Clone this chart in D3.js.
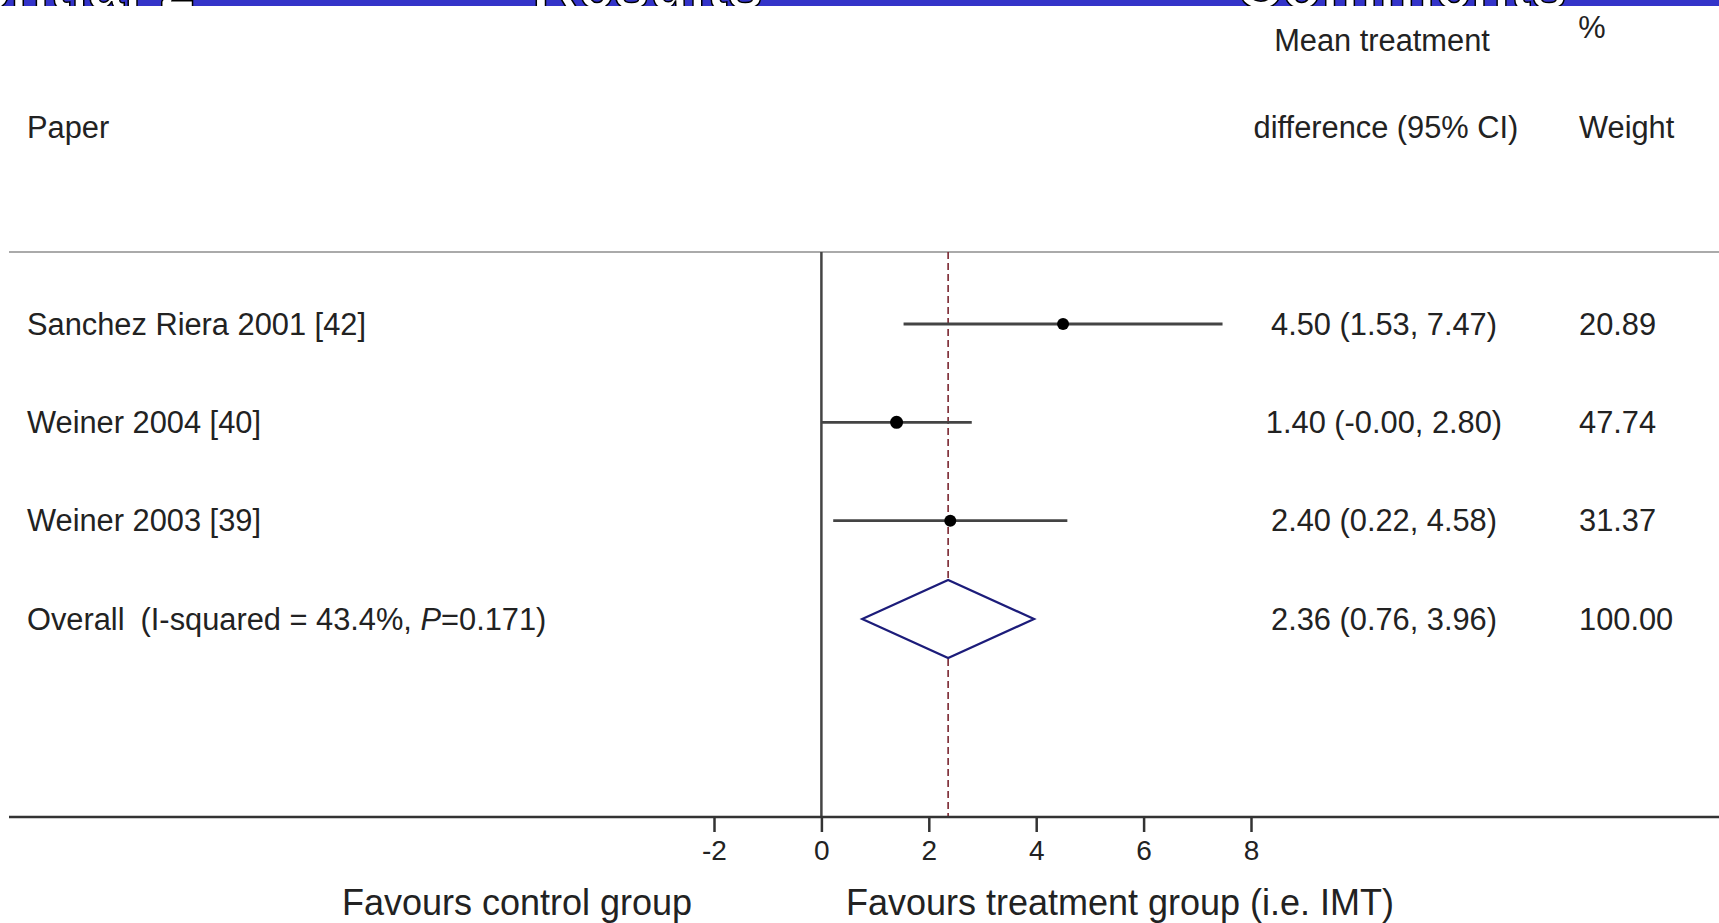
<!DOCTYPE html>
<html>
<head>
<meta charset="utf-8">
<script src="https://cdn.jsdelivr.net/npm/d3@7"></script>
<style>
  html, body { margin: 0; padding: 0; background: #fff; }
  svg { display: block; font-family: "Liberation Sans", Arial, sans-serif; }
  .txt { fill: #222; font-size: 30.8px; }
  .favours { fill: #222; font-size: 36px; }
  .axis text { font-size: 28px; fill: #222; font-family: "Liberation Sans", Arial, sans-serif; }
  .axis line { stroke: #333; stroke-width: 2.5; }
</style>
</head>
<body>
<div id="forest"></div>
<script>
const papers = ['Sanchez Riera 2001 [42]', 'Weiner 2004 [40]', 'Weiner 2003 [39]'];
const estimates = [4.50, 1.40, 2.40];
const lower = [1.53, -0.00, 0.22];
const upper = [7.47, 2.80, 4.58];
const weights = ['20.89', '47.74', '31.37'];
const overall = [2.36, 0.76, 3.96];
const overallWeight = '100.00';
const xTicks = [-2, 0, 2, 4, 6, 8];
const bannerWords = ['Essential 2', 'Results', 'Comments'];

const fmt = d3.format('.2f');
const ciText = (e, l, h) => `${fmt(e)} (${l === 0 ? '-0.00' : fmt(l)}, ${fmt(h)})`;

const canvasWidth = 1719;
const canvasHeight = 923;

const svg = d3.select('#forest')
  .append('svg')
    .attr('width', canvasWidth)
    .attr('height', canvasHeight);

// cropped slide banner at the very top
svg.append('clipPath')
    .attr('id', 'bannerClip')
  .append('rect')
    .attr('x', 0).attr('y', 0)
    .attr('width', canvasWidth).attr('height', 6);

const banner = svg.append('g').attr('clip-path', 'url(#bannerClip)');
banner.append('rect')
  .attr('width', canvasWidth).attr('height', 6)
  .attr('fill', '#3434c9');
banner.selectAll('text')
  .data(bannerWords)
  .enter()
  .append('text')
    .attr('x', (d, i) => [195, 532, 1236][i])
    .attr('y', 8)
    .attr('text-anchor', (d, i) => (i === 0 ? 'end' : 'start'))
    .attr('font-size', 64)
    .attr('font-weight', 'bold')
    .attr('fill', '#fff')
    .attr('stroke', '#000')
    .attr('stroke-width', 1.5)
    .text(d => d);

// scales
const x = d3.scaleLinear()
  .domain([-2, 8])
  .range([714, 1251]);
const y = d3.scalePoint()
  .domain(d3.range(papers.length + 1))
  .range([324, 619]);

const plotTop = 252;
const plotBottom = 817;

// header
svg.append('text').attr('class', 'txt')
  .attr('x', 27).attr('y', 127).attr('dy', '0.35em')
  .text('Paper');
svg.append('text').attr('class', 'txt')
  .attr('x', 1382).attr('y', 40).attr('dy', '0.35em')
  .attr('text-anchor', 'middle')
  .text('Mean treatment');
svg.append('text').attr('class', 'txt')
  .attr('x', 1386).attr('y', 127).attr('dy', '0.35em')
  .attr('text-anchor', 'middle')
  .text('difference (95% CI)');
svg.append('text').attr('class', 'txt')
  .attr('x', 1592).attr('y', 27).attr('dy', '0.35em')
  .attr('text-anchor', 'middle')
  .text('%');
svg.append('text').attr('class', 'txt')
  .attr('x', 1579).attr('y', 127).attr('dy', '0.35em')
  .text('Weight');

// frame lines
svg.append('line')
  .attr('x1', 9).attr('x2', canvasWidth)
  .attr('y1', plotTop).attr('y2', plotTop)
  .attr('stroke', '#aaa').attr('stroke-width', 2);
svg.append('line')
  .attr('x1', x(0)).attr('x2', x(0))
  .attr('y1', plotTop).attr('y2', plotBottom)
  .attr('stroke', '#444').attr('stroke-width', 2.5);
svg.append('line')
  .attr('x1', x(overall[0])).attr('x2', x(overall[0]))
  .attr('y1', plotTop).attr('y2', plotBottom)
  .attr('stroke', '#7b2630').attr('stroke-width', 1.6)
  .attr('stroke-dasharray', '7,4');

// x axis
const axis = svg.append('g')
  .attr('class', 'axis')
  .attr('transform', `translate(0, ${plotBottom})`)
  .call(d3.axisBottom(x).tickValues(xTicks).tickSize(15).tickPadding(8)
    .tickFormat(d => (d < 0 ? `-${-d}` : d)));
axis.select('.domain').remove();
svg.append('line')
  .attr('x1', 9).attr('x2', canvasWidth)
  .attr('y1', plotBottom).attr('y2', plotBottom)
  .attr('stroke', '#333').attr('stroke-width', 2.5);

// studies
const rows = svg.append('g').selectAll('g')
  .data(papers)
  .enter()
  .append('g');

rows.append('text').attr('class', 'txt')
  .attr('x', 27).attr('y', (d, i) => y(i)).attr('dy', '0.35em')
  .text(d => d);
rows.append('line')
  .attr('x1', (d, i) => x(lower[i])).attr('x2', (d, i) => x(upper[i]))
  .attr('y1', (d, i) => y(i)).attr('y2', (d, i) => y(i))
  .attr('stroke', '#444').attr('stroke-width', 2.8);
rows.append('circle')
  .attr('cx', (d, i) => x(estimates[i])).attr('cy', (d, i) => y(i))
  .attr('r', (d, i) => (i === 1 ? 6.5 : 6))
  .attr('fill', '#000');
rows.append('text').attr('class', 'txt')
  .attr('x', 1384).attr('y', (d, i) => y(i)).attr('dy', '0.35em')
  .attr('text-anchor', 'middle')
  .text((d, i) => ciText(estimates[i], lower[i], upper[i]));
rows.append('text').attr('class', 'txt')
  .attr('x', 1579).attr('y', (d, i) => y(i)).attr('dy', '0.35em')
  .text((d, i) => weights[i]);

// overall
const yo = y(papers.length);
const ov = svg.append('text').attr('class', 'txt')
  .attr('x', 27).attr('y', yo).attr('dy', '0.35em');
ov.append('tspan').text('Overall');
ov.append('tspan').attr('dx', 16).text('(I-squared = 43.4%, ');
ov.append('tspan').attr('font-style', 'italic').text('P');
ov.append('tspan').text('=0.171)');

svg.append('path')
  .attr('d', d3.line()([
    [x(overall[1]), yo],
    [x(overall[0]), yo - 39],
    [x(overall[2]), yo],
    [x(overall[0]), yo + 39],
  ]) + 'Z')
  .attr('fill', '#fff')
  .attr('stroke', '#1c1c7a')
  .attr('stroke-width', 2.2);

svg.append('text').attr('class', 'txt')
  .attr('x', 1384).attr('y', yo).attr('dy', '0.35em')
  .attr('text-anchor', 'middle')
  .text(ciText(overall[0], overall[1], overall[2]));
svg.append('text').attr('class', 'txt')
  .attr('x', 1579).attr('y', yo).attr('dy', '0.35em')
  .text(overallWeight);

// favours labels
svg.append('text').attr('class', 'favours')
  .attr('x', 517).attr('y', 902).attr('dy', '0.35em')
  .attr('text-anchor', 'middle')
  .text('Favours control group');
svg.append('text').attr('class', 'favours')
  .attr('x', 1120).attr('y', 902).attr('dy', '0.35em')
  .attr('text-anchor', 'middle')
  .text('Favours treatment group (i.e. IMT)');
</script>
</body>
</html>
